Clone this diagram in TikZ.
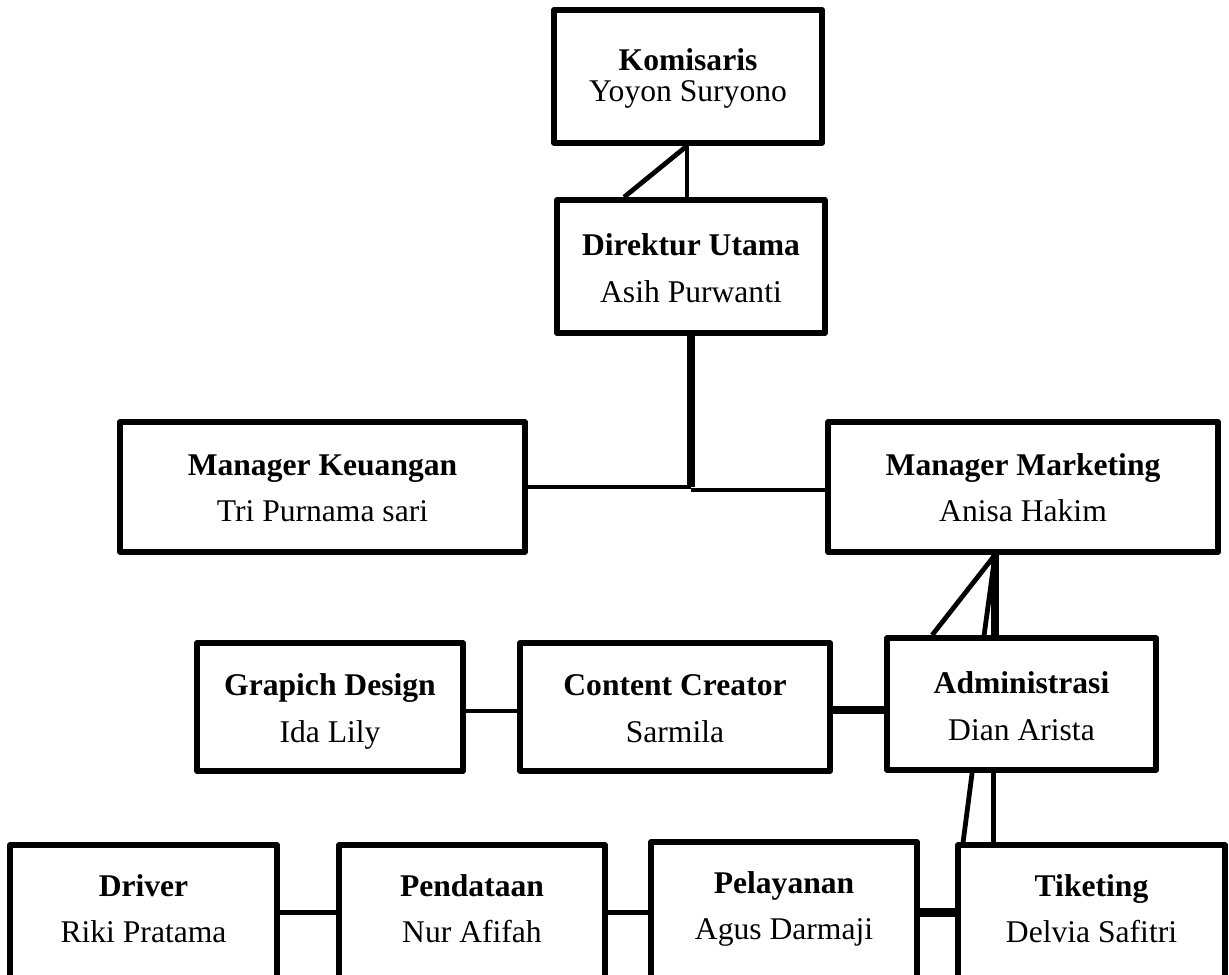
\documentclass[tikz,border=0pt]{standalone}
\usepackage{fontspec}
\setmainfont{Liberation Serif}
\begin{document}
\begin{tikzpicture}[x=0.5pt,y=-0.5pt,
  box/.style={draw=black,line width=2.9pt,line join=round,rectangle,inner sep=0pt,fill=white},
  ln/.style={draw=black,line width=2.4pt},
  thk/.style={draw=black,line width=3.8pt},
  thkr/.style={draw=black,line width=4.5pt},
  tb/.style={anchor=base,inner sep=0pt,font=\fontsize{15.8}{18}\selectfont\bfseries},
  tn/.style={anchor=base,inner sep=0pt,font=\fontsize{15.8}{18}\selectfont}]
\useasboundingbox (0,0) rectangle (1229,974);
\clip (0,0) rectangle (1229,974);
% boxes
\node[box,minimum width=134pt,minimum height=66.5pt] (kom) at (688,76.5) {};
\node[box,minimum width=134pt,minimum height=66.5pt] (dir) at (691,266.5) {};
\node[box,minimum width=202.5pt,minimum height=65pt] (keu) at (322.5,487) {};
\node[box,minimum width=195pt,minimum height=65pt] (mar) at (1023,487) {};
\node[box,minimum width=133pt,minimum height=64pt] (gra) at (330,707) {};
\node[box,minimum width=155pt,minimum height=64pt] (con) at (675,707) {};
\node[box,minimum width=134.5pt,minimum height=66pt] (adm) at (1021.5,704) {};
\node[box,minimum width=133.5pt,minimum height=77.5pt] (drv) at (143.5,922.5) {};
\node[box,minimum width=133pt,minimum height=77.5pt] (pen) at (472,922.5) {};
\node[box,minimum width=133pt,minimum height=79pt] (pel) at (784,921) {};
\node[box,minimum width=133.5pt,minimum height=77.5pt] (tik) at (1091.5,922.5) {};
% texts
\node[tb] (kom1) at (688,70) {Komisaris};
\node[tn] (kom2) at (688,102) {Yoyon Suryono};
\node[tb] (dir1) at (691,255) {Direktur Utama};
\node[tn] (dir2) at (691,302) {Asih Purwanti};
\node[tb] (keu1) at (322.5,475) {Manager Keuangan};
\node[tn] (keu2) at (322.5,521) {Tri Purnama sari};
\node[tb] (mar1) at (1023,475) {Manager Marketing};
\node[tn] (mar2) at (1023,521) {Anisa Hakim};
\node[tb] (gra1) at (330,695) {Grapich Design};
\node[tn] (gra2) at (330,742) {Ida Lily};
\node[tb] (con1) at (675,695) {Content Creator};
\node[tn] (con2) at (675,742) {Sarmila};
\node[tb] (adm1) at (1021.5,693) {Administrasi};
\node[tn] (adm2) at (1021.5,740) {Dian Arista};
\node[tb] (drv1) at (143.5,896) {Driver};
\node[tn] (drv2) at (143.5,942) {Riki Pratama};
\node[tb] (pen1) at (472,896) {Pendataan};
\node[tn] (pen2) at (472,942) {Nur Afifah};
\node[tb] (pel1) at (784,893) {Pelayanan};
\node[tn] (pel2) at (784,939) {Agus Darmaji};
\node[tb] (tik1) at (1091.5,896) {Tiketing};
\node[tn] (tik2) at (1091.5,942) {Delvia Safitri};
% connectors
\coordinate (ks) at ([xshift=-0.5pt]kom.south);
\draw[ln] (ks) -- (ks |- dir.north);
\draw[ln] (ks) -- ([xshift=35pt]dir.north west);
\draw[thk] (dir.south) -- (dir.south |- keu.east);
\draw[ln] (keu.east) -- (dir.south |- keu.east);
\coordinate (mj) at ([yshift=-1.5pt]dir.south |- mar.west);
\draw[ln] (mj) -- (mj -| mar.west);
\coordinate (ms) at ([xshift=-14pt]mar.south);
\draw[thk] (ms) -- (ms |- adm.north);
\draw[ln] (ms) -- ([xshift=50pt]adm.north west);
\draw[ln] (ms) -- ([xshift=24pt]adm.north west);
\coordinate (gc) at ([yshift=-2pt]gra.east);
\draw[ln] (gc) -- (gc -| con.west);
\coordinate (ca) at ([yshift=-1.5pt]con.east);
\draw[thk] (ca) -- (ca -| adm.west);
\coordinate (at) at ([xshift=54.5pt]adm.south west);
\draw[ln] (at) -- (at |- tik.north);
\draw[ln] ([xshift=44pt]adm.south west) -- ([xshift=4pt]tik.north west);
\coordinate (dp) at ([yshift=5pt]drv.east);
\draw[ln] (dp) -- (dp -| pen.west);
\coordinate (pp) at ([yshift=5pt]pen.east);
\draw[ln] (pp) -- (pp -| pel.west);
\coordinate (pt) at ([yshift=4.5pt]pel.east);
\draw[thkr] (pt) -- (pt -| tik.west);
\end{tikzpicture}
\end{document}
